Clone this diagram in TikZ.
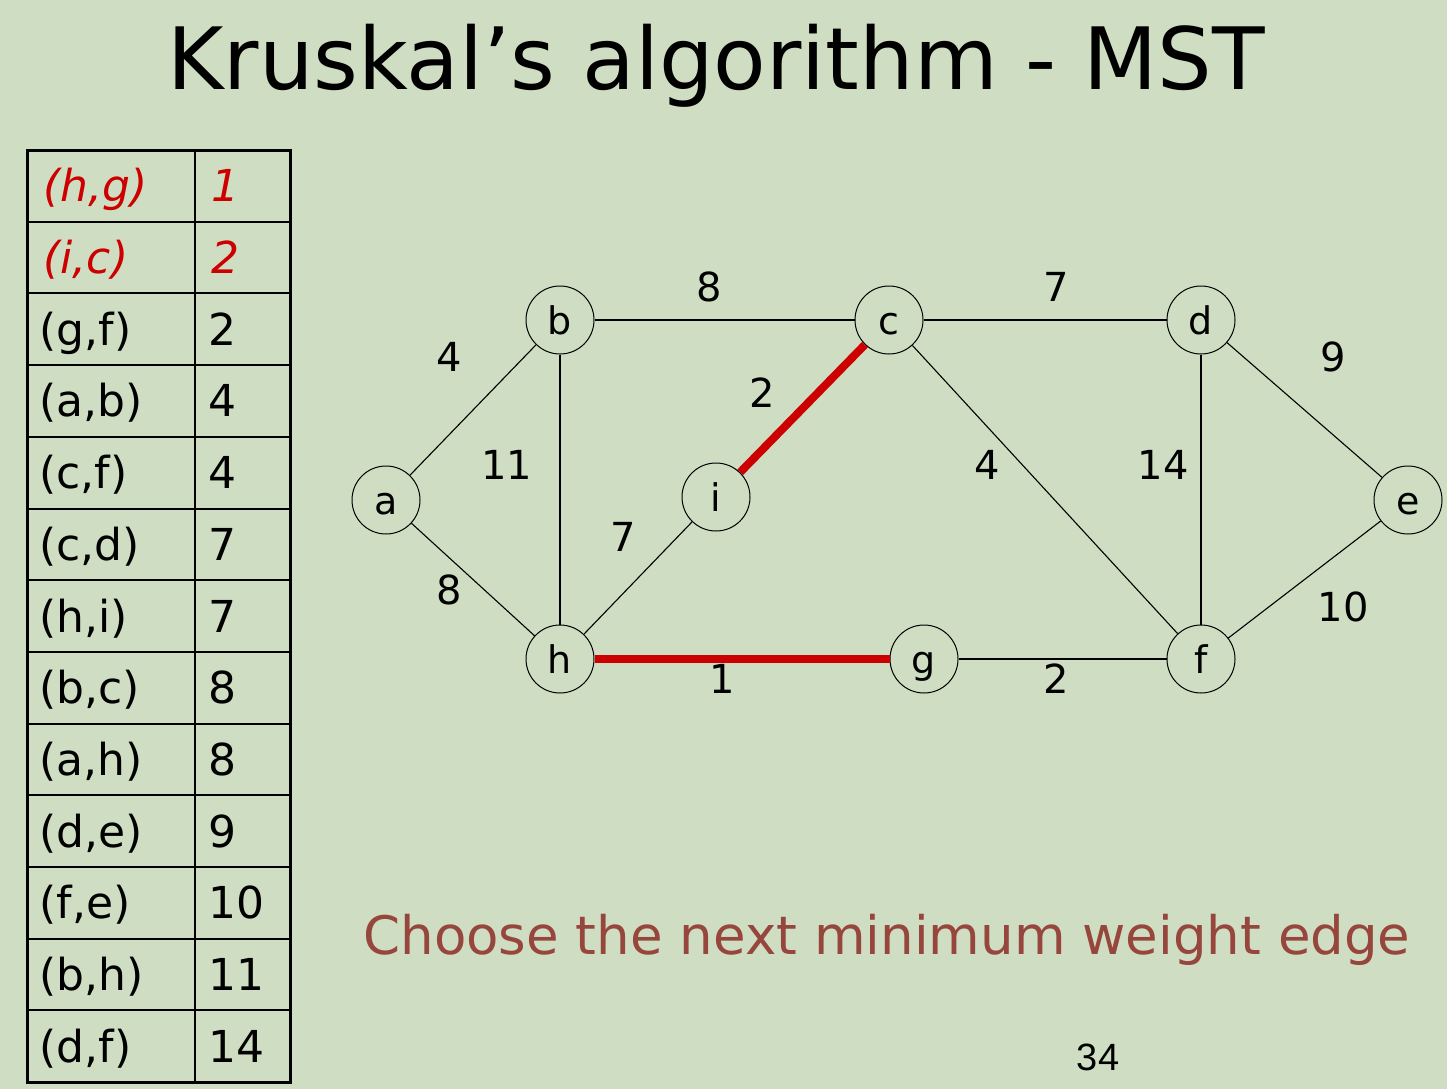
\documentclass[tikz,border=0pt]{standalone}
\usepackage{fontspec}
\setmainfont{DejaVu Sans}
\newfontfamily\numfont{Liberation Sans}
\definecolor{bg}{RGB}{207,222,195}
\definecolor{mstred}{RGB}{204,0,0}
\definecolor{brownred}{RGB}{150,70,60}
\begin{document}
\begin{tikzpicture}[x=1pt,y=-1pt,
  vtx/.style={circle,draw=black,line width=1pt,minimum size=68pt,inner sep=0pt,text height=28pt,text depth=0pt,font=\fontsize{38}{38}\selectfont},
  edg/.style={line width=1.1pt,black},
  mst/.style={line width=8pt,mstred},
  wlab/.style={font=\fontsize{40}{40}\selectfont},
  cell/.style={anchor=base west,font=\fontsize{44}{44}\selectfont},
  redcell/.style={cell,text=mstred,font=\fontsize{44}{44}\selectfont\itshape}]
\fill[bg] (0,0) rectangle (1447,1089);
\useasboundingbox (0,0) rectangle (1447,1089);
% title
\node (title) at (716,66) {\fontsize{86}{86}\selectfont Kruskal’s algorithm - MST};
% table
\draw[line width=3pt] (27,150) rectangle (290,1082);
\draw[line width=2pt] (195,150) -- (195,1082);
\foreach \k in {1,...,12}{
  \draw[line width=2pt] (27,150+71.7*\k) -- (290,150+71.7*\k);
}
\foreach \e/\w [count=\k from 0] in {(g{,}f)/2,(a{,}b)/4,(c{,}f)/4,(c{,}d)/7,(h{,}i)/7,(b{,}c)/8,(a{,}h)/8,(d{,}e)/9,(f{,}e)/10,(b{,}h)/11,(d{,}f)/14}{
  \node[cell] (e\k) at (36,150+71.7*\k+71.7*2.5+16) {\e};
  \node[cell] (w\k) at (205,150+71.7*\k+71.7*2.5+16) {\w};
}
\node[redcell] (r1) at (40,150+71.7*0.5+16) {(h,g)};
\node[redcell] (rw1) at (208,150+71.7*0.5+16) {1};
\node[redcell] (r2) at (40,150+71.7*1.5+16) {(i,c)};
\node[redcell] (rw2) at (208,150+71.7*1.5+16) {2};
% graph
\node[vtx] (a) at (386,500) {a};
\node[vtx] (b) at (560,320) {b};
\node[vtx] (c) at (889,320) {c};
\node[vtx] (d) at (1201,320) {d};
\node[vtx] (e) at (1408,500) {e};
\node[vtx] (i) at (716,497) {i};
\node[vtx] (h) at (560,659) {h};
\node[vtx] (g) at (924,659) {g};
\node[vtx] (f) at (1201,659) {f};
\draw[edg] (a) -- (b);
\draw[edg] (a) -- (h);
\draw[edg] (b) -- (c);
\draw[edg] (b) -- (h);
\draw[edg] (c) -- (d);
\draw[edg] (c) -- (f);
\draw[edg] (d) -- (e);
\draw[edg] (d) -- (f);
\draw[edg] (e) -- (f);
\draw[edg] (h) -- (i);
\draw[edg] (g) -- (f);
\draw[mst] (i) -- (c);
\draw[mst] (h) -- (g);
\node[wlab] (l1) at (709,287) {8};
\node[wlab] (l2) at (1056,287) {7};
\node[wlab] (l3) at (449,357) {4};
\node[wlab] (l4) at (1333,357) {9};
\node[wlab] (l5) at (762,393) {2};
\node[wlab] (l6) at (507,465) {11};
\node[wlab] (l7) at (987,465) {4};
\node[wlab] (l8) at (1163,465) {14};
\node[wlab] (l9) at (623,537) {7};
\node[wlab] (l10) at (449,590) {8};
\node[wlab] (l11) at (1343,607) {10};
\node[wlab] (l12) at (722,679) {1};
\node[wlab] (l13) at (1056,679) {2};
% caption
\node[text=brownred,font=\fontsize{53}{53}\selectfont] (cap) at (887,940) {Choose the next minimum weight edge};
\node[font=\numfont\fontsize{38}{38}\selectfont] (pg) at (1098,1057) {34};
\end{tikzpicture}
\end{document}
